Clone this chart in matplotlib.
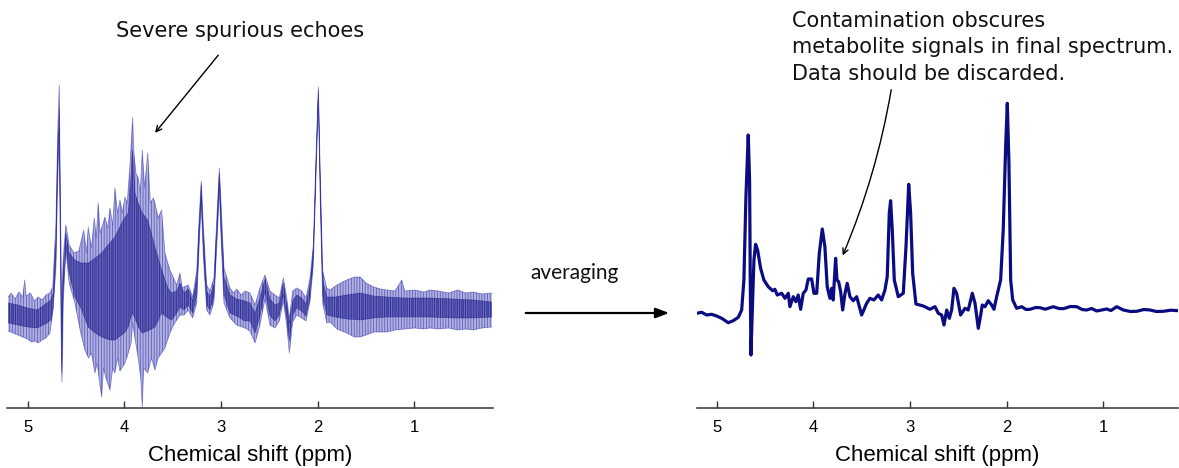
import numpy as np
import matplotlib.pyplot as plt
from matplotlib.patches import FancyArrowPatch

# ---- left panel: bundle of single transients ----
# dense core of the bundle: shift (ppm), top and bottom (a.u.)
core_ppm = [5.20, 5.10, 5.0, 4.9, 4.80, 4.76, 4.735, 4.707, 4.69, 4.673, 4.659, 4.648,
            4.632, 4.604, 4.57, 4.511, 4.45, 4.373, 4.30, 4.234, 4.15, 4.097, 4.0, 3.959,
            3.935, 3.914, 3.89, 3.856, 3.814, 3.758, 3.683, 3.614, 3.55, 3.51, 3.458, 3.424,
            3.383, 3.338, 3.293, 3.251, 3.224, 3.204, 3.183, 3.148, 3.114, 3.073, 3.038, 3.017,
            2.997, 2.969, 2.907, 2.838, 2.752, 2.70, 2.648, 2.597, 2.545, 2.493, 2.441, 2.397,
            2.355, 2.32, 2.293, 2.258, 2.217, 2.165, 2.121, 2.079, 2.045, 2.017, 1.993, 1.973,
            1.948, 1.906, 1.82, 1.70, 1.56, 1.42, 1.286, 1.10, 0.838, 0.60, 0.39, 0.20]
core_hi = [10, 8, 5, 3, 10, 13, 20, 75, 160, 205, 100, -20,
           45, 80, 60, 53, 50, 50, 55, 60, 70, 76, 95, 100,
           130, 163, 120, 110, 100, 93, 66, 43, 25, 20, 22, 30,
           20, 24, 12, 35, 92, 128, 80, 22, 16, 29, 98, 140,
           95, 36, 18, 14, 12, 10, 0, 15, 34, 14, 8, 10,
           30, 8, -10, 12, 18, 15, 9, 28, 63, 153, 223, 130,
           33, 16, 16, 18, 20, 17, 16, 15, 15, 14, 13, 11]
core_lo = [-10, -12, -14, -15, -10, -7, 5, 55, 140, 185, 60, -60,
           20, 68, 40, 16, 5, -14, -20, -24, -27, -27, -20, -14,
           -5, 0, -5, -14, -20, -18, -14, 0, -5, -7, 0, 6,
           3, 8, 0, 18, 78, 116, 65, 8, 3, 16, 84, 130,
           78, 18, 0, -3, -8, -8, -20, -3, 22, -3, -8, -2,
           18, -5, -28, -2, 5, 2, -3, 16, 55, 144, 218, 118,
           18, -2, -4, -6, -7, -5, -4, -4, -4, -5, -5, -4]

# outermost traces (spikes) of the bundle
top_ppm = [5.20, 5.17, 5.13, 5.09, 5.05, 5.03, 5.015, 4.97, 4.93, 4.89, 4.85, 4.81,
           4.77, 4.74, 4.707, 4.69, 4.673, 4.665, 4.659, 4.652, 4.645, 4.632, 4.604, 4.57,
           4.52, 4.47, 4.42, 4.39, 4.373, 4.34, 4.31, 4.29, 4.27, 4.25, 4.2, 4.17,
           4.148, 4.12, 4.097, 4.07, 4.045, 4.02, 3.993, 3.97, 3.94, 3.914, 3.90, 3.88,
           3.856, 3.835, 3.814, 3.79, 3.758, 3.73, 3.70, 3.683, 3.65, 3.614, 3.58, 3.55,
           3.528, 3.49, 3.458, 3.424, 3.40, 3.383, 3.338, 3.293, 3.251, 3.224, 3.204, 3.183,
           3.148, 3.114, 3.073, 3.038, 3.017, 2.997, 2.969, 2.907, 2.87, 2.838, 2.79, 2.752,
           2.70, 2.648, 2.597, 2.545, 2.493, 2.441, 2.397, 2.355, 2.32, 2.293, 2.258, 2.217,
           2.165, 2.121, 2.079, 2.045, 2.017, 1.993, 1.973, 1.948, 1.906, 1.872, 1.80, 1.70,
           1.62, 1.56, 1.50, 1.42, 1.35, 1.286, 1.20, 1.13, 1.10, 1.0, 0.90, 0.838,
           0.75, 0.65, 0.55, 0.47, 0.39, 0.30, 0.20]
top_int = [16, 20, 14, 21, 16, 33, 17, 20, 12, 16, 13, 18,
           20, 26, 90, 175, 228, 150, 100, 30, 0, 55, 88, 68,
           60, 62, 83, 60, 86, 65, 95, 75, 110, 80, 96, 85,
           105, 88, 125, 100, 113, 100, 116, 110, 150, 195, 160, 140,
           135, 120, 163, 125, 160, 110, 115, 110, 95, 103, 60, 50,
           43, 35, 28, 40, 25, 26, 28, 16, 42, 98, 132, 88,
           28, 22, 35, 105, 145, 105, 45, 25, 20, 24, 18, 22,
           20, 8, 25, 38, 22, 18, 15, 35, 15, -5, 22, 25,
           22, 15, 35, 68, 158, 226, 138, 42, 25, 23, 28, 33,
           36, 36, 30, 26, 24, 23, 22, 33, 22, 23, 21, 23,
           22, 20, 23, 20, 21, 19, 20]
bot_ppm = [5.20, 5.15, 5.10, 5.05, 5.0, 4.96, 4.92, 4.89, 4.85, 4.81, 4.77, 4.74,
           4.707, 4.69, 4.673, 4.665, 4.659, 4.652, 4.645, 4.638, 4.632, 4.604, 4.57, 4.511,
           4.45, 4.407, 4.37, 4.34, 4.304, 4.28, 4.255, 4.234, 4.215, 4.19, 4.148, 4.12,
           4.097, 4.07, 4.045, 3.993, 3.959, 3.93, 3.914, 3.89, 3.856, 3.83, 3.814, 3.80,
           3.758, 3.72, 3.683, 3.65, 3.614, 3.58, 3.528, 3.49, 3.458, 3.424, 3.383, 3.338,
           3.293, 3.251, 3.224, 3.204, 3.183, 3.148, 3.114, 3.073, 3.038, 3.017, 2.997, 2.969,
           2.907, 2.838, 2.752, 2.70, 2.648, 2.597, 2.545, 2.493, 2.441, 2.397, 2.355, 2.32,
           2.293, 2.258, 2.217, 2.165, 2.121, 2.079, 2.045, 2.017, 1.993, 1.973, 1.948, 1.906,
           1.872, 1.80, 1.70, 1.62, 1.56, 1.50, 1.42, 1.35, 1.286, 1.20, 1.10, 1.0,
           0.90, 0.838, 0.75, 0.65, 0.55, 0.47, 0.39, 0.30, 0.20]
bot_int = [-18, -20, -22, -24, -26, -29, -28, -30, -27, -25, -20, 0,
           45, 130, 180, 100, 40, -30, -69, -40, 10, 62, 30, 10,
           -20, -37, -45, -40, -60, -50, -70, -84, -55, -65, -77, -55,
           -60, -45, -58, -50, -40, -30, -10, -25, -45, -65, -94, -55,
           -60, -45, -57, -45, -40, -35, -20, -12, -7, -2, -2, 3,
           -5, 10, 72, 110, 58, 3, -2, 11, 78, 124, 70, 10,
           -5, -12, -15, -18, -30, -12, 14, -12, -15, -8, 12, -12,
           -40, -9, -2, -5, -8, 12, 48, 138, 214, 110, 10, -10,
           -9, -16, -20, -24, -24, -22, -19, -19, -19, -17, -16, -15,
           -16, -15, -16, -15, -17, -16, -17, -15, -14]

# ---- right panel: averaged spectrum ----
avg_ppm = [5.207, 5.155, 5.103, 5.052, 5.0, 4.948, 4.88, 4.828, 4.776, 4.741, 4.718, 4.697,
           4.673, 4.659, 4.652, 4.645, 4.632, 4.614, 4.597, 4.576, 4.545, 4.511, 4.466, 4.421,
           4.397, 4.373, 4.327, 4.293, 4.259, 4.242, 4.207, 4.18, 4.156, 4.131, 4.104, 4.076,
           4.052, 4.017, 3.993, 3.965, 3.938, 3.907, 3.88, 3.856, 3.828, 3.81, 3.794, 3.769,
           3.755, 3.738, 3.717, 3.696, 3.672, 3.649, 3.621, 3.587, 3.551, 3.5, 3.448, 3.414,
           3.373, 3.328, 3.293, 3.259, 3.235, 3.214, 3.2, 3.183, 3.162, 3.121, 3.069, 3.041,
           3.013, 2.993, 2.972, 2.938, 2.862, 2.793, 2.741, 2.707, 2.672, 2.648, 2.62, 2.593,
           2.569, 2.545, 2.517, 2.476, 2.431, 2.397, 2.355, 2.327, 2.293, 2.268, 2.252, 2.224,
           2.19, 2.155, 2.131, 2.103, 2.062, 2.035, 2.01, 1.993, 1.976, 1.958, 1.937, 1.896,
           1.844, 1.80, 1.758, 1.70, 1.655, 1.60, 1.517, 1.46, 1.414, 1.34, 1.275, 1.22,
           1.172, 1.12, 1.068, 0.965, 0.92, 0.861, 0.793, 0.72, 0.654, 0.58, 0.517, 0.45,
           0.379, 0.30, 0.224]
avg_int = [-0.3, 0.7, -2, -1.3, -3, -5.3, -9.7, -7.7, -4.3, 3, 33, 116,
           178, 133, 33, -42, -0.3, 53, 68.7, 63, 44.7, 33, 26.3, 22.3,
           23.7, 18, 19.7, 14.7, 19.7, 6.3, 16.3, 11.3, 18, 3.7, 19.7, 23,
           34, 34, 19.7, 19.7, 59.7, 84, 66.3, 26.3, 14.7, 24.7, 13, 54.7,
           33, 31.3, 21.3, 3, 19.7, 29.7, 16.3, 12.3, 16.3, -2, 9.7, 14.7,
           13, 18, 13, 23, 36.3, 99.7, 112.3, 83, 33, 16.3, 19.7, 66.3,
           128.7, 99.7, 39.7, 9, 7, 3.7, 6.3, -0.3, -2, -12, 3, -5.3,
           3, 24.7, 19.7, -2, 4.7, 3, 19.7, 9.7, -15.3, -2, 8, 6.3,
           12.3, 8, 3.7, 16.3, 33, 83, 166.3, 209.7, 149.7, 33, 13, 4.7,
           6.3, 3.5, 3.7, 5.5, 5.3, 3.8, 6.3, 4.5, 4.3, 6.5, 6.3, 3.5,
           3, 4.5, 2, 4, 2.5, 6.3, 3, 1.5, 1.7, 3.5, 3, 1.5,
           1.7, 2.8, 2.3]

tick_vals = [5, 4, 3, 2, 1]
bundle_col = '#2a2aa8'
avg_col = '#0c0c82'

plt.rcParams['hatch.linewidth'] = 0.6
fig = plt.figure(figsize=(11.79, 4.68), dpi=100)
W, H = 1179, 468
axL = fig.add_axes([7.3 / W, 60 / H, 485.4 / W, 338 / H])
axR = fig.add_axes([697.3 / W, 60 / H, 480.7 / W, 338 / H])

# spread of all transients (streaky), then the dense core
axL.fill(np.r_[top_ppm, bot_ppm[::-1]], np.r_[top_int, bot_int[::-1]],
         facecolor=(0.28, 0.28, 0.72, 0.42), edgecolor=(0.2, 0.2, 0.66, 0.65),
         hatch='||||||', lw=0)
axL.plot(top_ppm, top_int, color=bundle_col, lw=0.6, alpha=0.5)
axL.plot(bot_ppm, bot_int, color=bundle_col, lw=0.6, alpha=0.5)
axL.fill_between(core_ppm, core_lo, core_hi, facecolor=(0.12, 0.12, 0.58, 0.45),
                 edgecolor=(0.08, 0.08, 0.5, 0.6), hatch='||||||||', lw=0.4)

axR.plot(avg_ppm, avg_int, color=avg_col, lw=2.3)

for ax, xl in ((axL, (5.21, 0.19)), (axR, (5.20, 0.227))):
    ax.set_xlim(*xl)
    ax.set_ylim(-95, 243)
    for s in ('top', 'left', 'right'):
        ax.spines[s].set_visible(False)
    ax.spines['bottom'].set_color('#333333')
    ax.spines['bottom'].set_linewidth(1.1)
    ax.set_yticks([])
    ax.set_xticks(tick_vals)
    ax.tick_params(axis='x', direction='in', length=5, width=1, color='#333333',
                   labelsize=12, pad=9)
    for lab in ax.get_xticklabels():
        lab.set_family('Liberation Sans')
    ax.set_xlabel('Chemical shift (ppm)', fontsize=16, family='Liberation Sans', labelpad=7)
    ax.patch.set_visible(False)

# annotations
axL.text(2.80, 275.7, 'Severe spurious echoes', ha='center', va='baseline',
         fontsize=15, family='DejaVu Sans', color='#111111', clip_on=False)
axL.annotate('', xy=(3.70, 178), xytext=(3.01, 260), annotation_clip=False,
             arrowprops=dict(arrowstyle='->', lw=1, color='black'))

note = ['Contamination obscures', 'metabolite signals in final spectrum.',
        'Data should be discarded.']
for line, yb in zip(note, (286, 260, 233)):
    axR.text(4.224, yb, line, ha='left', va='baseline', fontsize=15,
             family='DejaVu Sans', color='#111111', clip_on=False)
axR.annotate('', xy=(3.707, 55), xytext=(3.189, 226), annotation_clip=False,
             arrowprops=dict(arrowstyle='->', lw=1, color='black',
                             connectionstyle='arc3,rad=-0.06'))

fig.text(575 / W, 1 - 273 / H, 'averaging', ha='center', va='center', fontsize=15,
         family='Lato', color='#111111')
fig.add_artist(FancyArrowPatch(
    (523 / W, 1 - 313 / H), (672 / W, 1 - 313 / H), transform=fig.transFigure,
    arrowstyle='-|>,head_length=8,head_width=3', lw=1.6, color='black'))

fig.savefig('out.png', dpi=100)
